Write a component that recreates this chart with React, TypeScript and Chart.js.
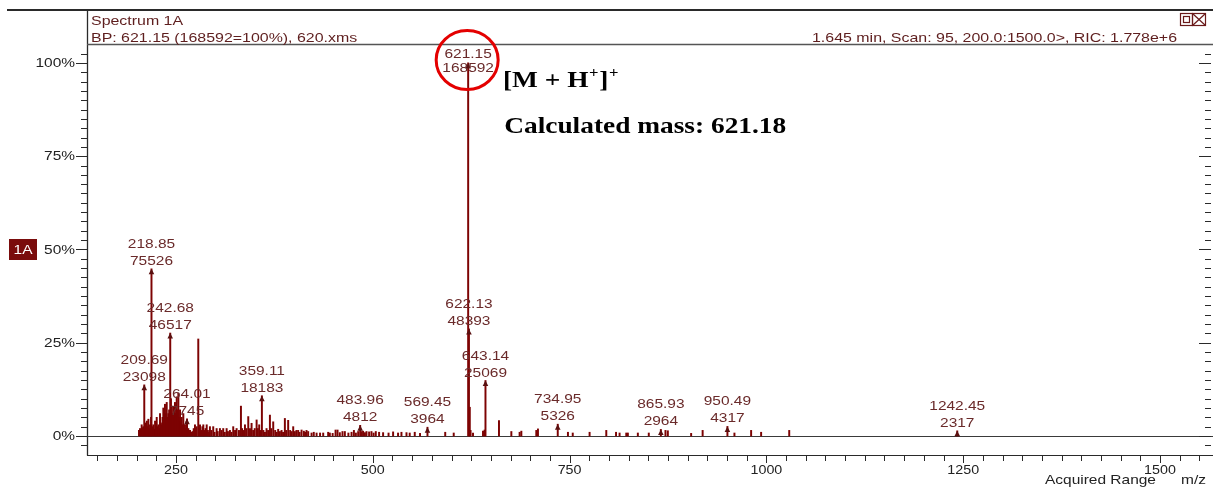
import React, { useEffect, useRef } from "react";
import { Chart, registerables } from "chart.js";

Chart.register(...registerables);

// ---------------- data ----------------
const basePeakCounts = 168592;

// unlabelled peaks: m/z and relative abundance (%)
const peakMz = [
  203.0, 204.3, 205.2, 206.4, 207.5, 208.5, 210.7, 211.8, 213.0, 214.0, 214.9, 216.0, 217.0, 218.3,
  220.0, 221.2, 222.3, 223.4, 224.5, 225.5, 226.5, 227.6, 228.7, 229.7, 230.8, 231.8, 232.9, 233.9, 235.0, 236.0, 237.1, 238.2, 239.2, 240.3, 241.3,
  243.6, 244.6, 245.6, 246.6, 247.7, 248.7, 249.8, 250.9, 252.0, 253.0, 254.1, 255.1, 256.2, 257.2, 258.3, 259.3, 260.4, 261.4, 262.5, 263.4,
  265.7, 266.8, 267.8, 269.5, 271.0, 272.5, 274.1, 275.2, 276.3, 278.3, 279.5, 280.5, 282.0, 283.5, 284.7, 286.0, 287.5, 289.0, 290.5,
  292.0, 293.1, 295.0, 297.3, 299.0, 301.6,
  303.0, 305.8, 308.0, 310.0, 312.0, 314.3, 316.0, 318.5, 320.5, 322.7, 325.0, 327.0, 330.0, 332.5, 334.0, 336.0, 337.6, 339.5, 341.8, 344.0,
  346.0, 348.0, 350.0, 352.4, 354.0, 355.7, 357.0, 361.0, 363.0, 365.0,
  367.0, 369.3, 371.0, 373.5, 376.0, 378.0, 379.8, 382.0, 384.1, 386.0, 388.3, 390.0, 392.5, 395.0, 397.0, 398.9, 401.0, 403.0, 405.2, 407.0,
  409.5, 412.4, 414.0, 415.8, 417.9, 422.2, 425.0, 428.6, 433.0,
  437.0, 443.3, 445.4, 449.0, 452.7, 455.2, 458.1, 461.5, 464.5, 469.0, 473.0, 476.0, 478.5, 481.4, 486.0,
  487.7, 490.0, 492.0, 495.3, 498.3, 501.0, 503.8, 508.0, 513.1, 520.0, 525.8, 532.1, 536.4, 542.8,
  546.9, 553.3, 560.0, 592.0, 602.8, 623.2, 624.2, 627.3, 640.0, 642.0,
  660.3, 676.0, 686.5, 688.7, 707.7, 709.8, 747.9, 754.0, 775.4, 796.6,
  809.0, 813.5, 822.0, 824.0, 836.7, 850.6, 871.8, 874.8, 904.4, 919.0, 959.4, 980.6, 993.3,
  1029.0,
];
const peakAbundance = [
  1.5, 2.0, 1.2, 3.0, 2.2, 2.5, 3.5, 2.0, 4.0, 2.5, 4.5, 2.0, 3.0, 5.0,
  2.5, 3.0, 1.8, 4.0, 2.0, 5.0, 2.5, 3.0, 2.0, 6.0, 3.5, 3.0, 5.0, 7.5, 5.0, 8.5, 6.0, 9.0, 5.0, 6.0, 7.0,
  10.0, 8.0, 6.0, 8.0, 5.0, 9.0, 6.0, 10.5, 7.0, 11.5, 5.0, 7.0, 4.0, 5.0, 3.0, 6.0, 3.0, 3.0, 2.0, 4.0,
  2.0, 1.5, 1.5, 1.0, 1.2, 2.0, 3.0, 2.0, 2.5, 26.0, 2.0, 3.0, 1.5, 2.5, 3.0, 1.5, 2.0, 3.0, 1.5,
  1.0, 2.5, 1.5, 2.5, 1.0, 2.0,
  1.2, 2.0, 1.5, 2.0, 1.0, 2.0, 1.2, 1.5, 1.0, 2.5, 1.5, 2.0, 1.5, 8.0, 2.0, 1.5, 3.0, 2.0, 5.2, 2.0,
  3.4, 1.5, 2.0, 4.3, 2.0, 3.0, 1.5, 1.5, 1.0, 2.0,
  1.5, 5.6, 2.0, 3.8, 1.5, 1.0, 1.8, 1.2, 1.5, 1.0, 4.7, 1.5, 4.2, 1.5, 1.2, 2.5, 1.2, 1.5, 1.5, 1.0,
  1.6, 1.3, 1.0, 1.5, 1.2, 0.8, 1.0, 0.8, 0.8,
  0.8, 1.0, 0.8, 0.7, 1.6, 1.6, 0.9, 1.2, 1.2, 0.8, 1.0, 1.5, 0.8, 1.2, 1.2,
  1.3, 0.9, 1.2, 1.1, 1.2, 0.8, 1.2, 1.0, 0.9, 0.8, 1.1, 0.8, 1.0, 0.9,
  0.8, 1.0, 0.7, 1.0, 0.8, 7.7, 1.5, 0.8, 1.3, 1.6,
  4.1, 1.2, 1.0, 1.3, 1.5, 1.9, 1.0, 0.8, 1.0, 1.5,
  1.0, 0.8, 0.8, 0.8, 0.8, 0.8, 1.5, 1.4, 0.7, 1.5, 0.8, 1.5, 1.0,
  1.5,
];

// labelled peaks: m/z and counts
const labelMz = [209.69, 218.85, 242.68, 264.01, 359.11, 483.96, 569.45, 621.15, 622.13, 643.14, 734.95, 865.93, 950.49, 1242.45];
const labelCounts = [23098, 75526, 46517, 7745, 18183, 4812, 3964, 168592, 48393, 25069, 5326, 2964, 4317, 2317];

const yTickValues = [0, 25, 50, 75, 100];
const yTickLabels = ["0%", "25%", "50%", "75%", "100%"];
const xTickValues = [250, 500, 750, 1000, 1250, 1500];
const xTickLabels = ["250", "500", "750", "1000", "1250", "1500"];

const headerTitle = "Spectrum 1A";
const headerLeft = "BP: 621.15 (168592=100%), 620.xms";
const headerRight = "1.645 min, Scan: 95, 200.0:1500.0>, RIC: 1.778e+6";
const xAxisCaption = "Acquired Range";
const xAxisUnit = "m/z";
const traceBadge = "1A";
const annotationLine2 = "Calculated mass: 621.18";

// ---------------- styling ----------------
const PEAK_COLOR = "#7d0303";
const LABEL_COLOR = "#6a2a2a";
const HEADER_COLOR = "#5e1e1e";
const AXIS_COLOR = "#2a2a2a";
const SANS = "'Liberation Sans', Arial, sans-serif";
const SERIF = "'Liberation Serif', 'Times New Roman', serif";
const SX = 1.19;

function txt(ctx: CanvasRenderingContext2D, s: string, x: number, y: number, align: CanvasTextAlign, font: string, color: string, sx = SX, baseline: CanvasTextBaseline = "alphabetic") {
  ctx.save();
  ctx.translate(x, y);
  ctx.scale(sx, 1);
  ctx.font = font;
  ctx.fillStyle = color;
  ctx.textAlign = align;
  ctx.textBaseline = baseline;
  ctx.fillText(s, 0, 0);
  ctx.restore();
}

function line(ctx: CanvasRenderingContext2D, x1: number, y1: number, x2: number, y2: number) {
  ctx.beginPath();
  ctx.moveTo(x1, y1);
  ctx.lineTo(x2, y2);
  ctx.stroke();
}

const overlay = {
  id: "overlay",
  beforeDatasetsDraw(chart: any) {
    const { ctx, chartArea: a, scales } = chart;
    const x = scales.x;
    const y = scales.y;
    ctx.save();
    ctx.strokeStyle = AXIS_COLOR;
    ctx.lineWidth = 2;
    line(ctx, 7, 10, 1213, 10);
    ctx.lineWidth = 1.3;
    line(ctx, a.left + 0.5, 10, a.left + 0.5, a.bottom + 0.5);
    ctx.strokeStyle = "#555";
    ctx.lineWidth = 1.5;
    line(ctx, a.left, a.top - 0.5, 1213, a.top - 0.5);
    ctx.strokeStyle = AXIS_COLOR;
    ctx.lineWidth = 1.2;
    line(ctx, a.left, a.bottom + 0.5, 1213, a.bottom + 0.5);
    const y0 = Math.round(y.getPixelForValue(0)) + 0.5;
    ctx.strokeStyle = "#3a3a3a";
    ctx.lineWidth = 1.2;
    line(ctx, a.left, y0, 1213, y0);
    ctx.strokeStyle = AXIS_COLOR;
    ctx.lineWidth = 1;
    for (let v = -5; v <= 105; v += 2.5) {
      const py = Math.round(y.getPixelForValue(v)) + 0.5;
      if (py < a.top + 2 || py > a.bottom - 1) continue;
      const major = v % 25 === 0;
      line(ctx, a.left - (major ? 11 : 6), py, a.left, py);
      line(ctx, 1211, py, 1211 - (major ? 12 : 6), py);
    }
    for (let v = 150; v <= 1560; v += 25) {
      const px = Math.round(x.getPixelForValue(v)) + 0.5;
      if (px < a.left || px > 1212) continue;
      const major = v % 250 === 0;
      line(ctx, px, a.bottom, px, a.bottom + (major ? 8 : 6));
    }
    yTickValues.forEach((v, i) => {
      txt(ctx, yTickLabels[i], 75, y.getPixelForValue(v) + 0.5, "right", `13px ${SANS}`, "#222", SX, "middle");
    });
    xTickValues.forEach((v, i) => {
      txt(ctx, xTickLabels[i], x.getPixelForValue(v), 474, "center", `13px ${SANS}`, "#222", 1.1);
    });
    txt(ctx, xAxisCaption, 1045, 484, "left", `13px ${SANS}`, "#222");
    txt(ctx, xAxisUnit, 1181, 484, "left", `13px ${SANS}`, "#222");
    txt(ctx, headerTitle, 91, 25, "left", `13.4px ${SANS}`, HEADER_COLOR);
    txt(ctx, headerLeft, 91, 41.5, "left", `13.4px ${SANS}`, HEADER_COLOR);
    txt(ctx, headerRight, 1177, 41.5, "right", `13.4px ${SANS}`, HEADER_COLOR);
    ctx.strokeStyle = "#6a1a1a";
    ctx.lineWidth = 1.2;
    ctx.strokeRect(1180.5, 13.5, 12, 12);
    ctx.strokeRect(1183.5, 16.5, 6, 6);
    ctx.strokeRect(1192.5, 13.5, 13, 12);
    line(ctx, 1192.5, 13.5, 1205.5, 25.5);
    line(ctx, 1205.5, 13.5, 1192.5, 25.5);
    ctx.fillStyle = "#7a0c0c";
    ctx.fillRect(9, 239, 28, 21);
    txt(ctx, traceBadge, 23, 250, "center", `13px ${SANS}`, "#fff", SX, "middle");
    ctx.restore();
  },
  afterDatasetsDraw(chart: any) {
    const { ctx, chartArea: a, scales } = chart;
    const x = scales.x;
    const y = scales.y;
    ctx.save();
    let circle = { cx: 0, cy: 0 };
    labelMz.forEach((mz, i) => {
      const pct = (labelCounts[i] / basePeakCounts) * 100;
      const px = x.getPixelForValue(mz);
      const top = y.getPixelForValue(pct);
      ctx.fillStyle = "#5a1010";
      ctx.beginPath();
      ctx.moveTo(px, top);
      ctx.lineTo(px - 2.8, top + 5.5);
      ctx.lineTo(px + 2.8, top + 5.5);
      ctx.closePath();
      ctx.fill();
      let b2 = top - 4;
      let b1 = b2 - 17;
      if (b1 - 10 < a.top + 3) {
        b1 = a.top + 13;
        b2 = b1 + 14;
      }
      txt(ctx, mz.toFixed(2), px, b1, "center", `13px ${SANS}`, LABEL_COLOR);
      txt(ctx, String(labelCounts[i]), px, b2, "center", `13px ${SANS}`, LABEL_COLOR);
      if (labelCounts[i] === basePeakCounts) circle = { cx: px - 1, cy: (b1 + b2) / 2 - 5 };
    });
    ctx.strokeStyle = "#e40000";
    ctx.lineWidth = 3;
    ctx.beginPath();
    ctx.ellipse(circle.cx, circle.cy, 31, 29.5, 0, 0, Math.PI * 2);
    ctx.stroke();
    ctx.save();
    ctx.translate(503, 86.5);
    ctx.scale(SX, 1);
    ctx.fillStyle = "#000";
    ctx.textBaseline = "alphabetic";
    ctx.textAlign = "left";
    ctx.font = `bold 23px ${SERIF}`;
    let cx = 0;
    const big = (s: string) => { ctx.font = `bold 23px ${SERIF}`; ctx.fillText(s, cx, 0); cx += ctx.measureText(s).width; };
    const sup = (s: string) => { ctx.font = `bold 14px ${SERIF}`; ctx.fillText(s, cx + 0.5, -10); cx += ctx.measureText(s).width + 1; };
    big("[M + H");
    sup("+");
    big("]");
    sup("+");
    ctx.font = `bold 23px ${SERIF}`;
    ctx.fillText(annotationLine2, 1, 46.8);
    ctx.restore();
    ctx.restore();
  },
};

export default function App() {
  const ref = useRef<HTMLCanvasElement>(null);
  useEffect(() => {
    if (!ref.current) return;
    const points: { x: number; y: number }[] = [];
    peakMz.forEach((mz, i) => points.push({ x: mz, y: peakAbundance[i] }));
    labelMz.forEach((mz, i) => points.push({ x: mz, y: (labelCounts[i] / basePeakCounts) * 100 }));
    points.sort((p, q) => p.x - q.x);
    const chart = new Chart(ref.current, {
      type: "bar",
      data: {
        datasets: [
          {
            data: points as any,
            backgroundColor: PEAK_COLOR,
            borderWidth: 0,
            barThickness: 1.3,
          } as any,
        ],
      },
      options: {
        animation: false,
        responsive: false,
        maintainAspectRatio: false,
        layout: { padding: { left: 87, right: 2, top: 45, bottom: 35 } },
        scales: {
          x: { type: "linear", min: 136.94, max: 1564.8, offset: false, display: false, grid: { offset: false } },
          y: { type: "linear", min: -5.1, max: 104.8, display: false },
        },
        plugins: { legend: { display: false }, tooltip: { enabled: false } },
      },
      plugins: [overlay],
    } as any);
    return () => chart.destroy();
  }, []);
  return (
    <div style={{ position: "fixed", left: 0, top: 0, width: 1213, height: 490, background: "#fff" }}>
      <canvas ref={ref} width={1213} height={490} style={{ display: "block", width: 1213, height: 490 }} />
    </div>
  );
}
